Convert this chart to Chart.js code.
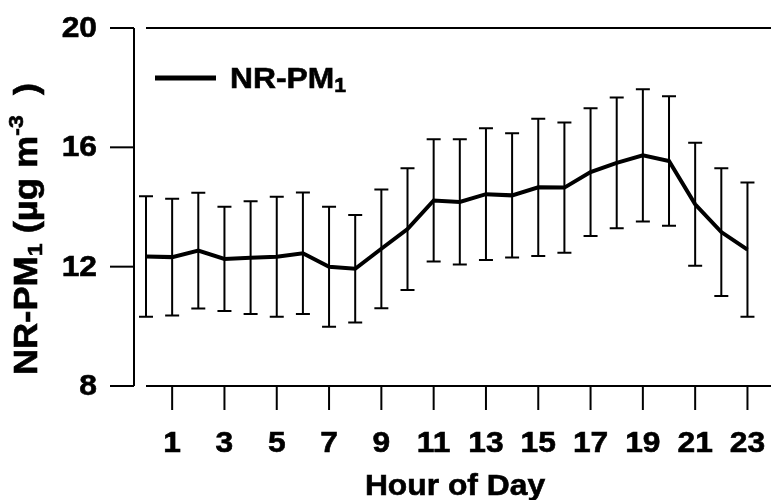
<!DOCTYPE html>
<html>
<head>
<meta charset="utf-8">
<script src="https://cdn.jsdelivr.net/npm/chart.js@4.4.1/dist/chart.umd.min.js"></script>
<style>
  html, body { margin: 0; padding: 0; background: #fff; }
  #wrap { width: 771px; height: 500px; }
</style>
</head>
<body>
<div id="wrap"><canvas id="diurnal" width="771" height="500"></canvas></div>
<script>
// ── DATA ──────────────────────────────────────────────────────────────────────
const hours  = [0, 1, 2, 3, 4, 5, 6, 7, 8, 9, 10, 11, 12, 13, 14, 15, 16, 17, 18, 19, 20, 21, 22, 23];
const meanPM = [12.34, 12.32, 12.54, 12.26, 12.30, 12.33, 12.45, 12.00, 11.93, 12.60, 13.26, 14.22,
                14.17, 14.43, 14.39, 14.66, 14.65, 15.17, 15.48, 15.73, 15.54, 14.09, 13.16, 12.57];
const sdPM   = [2.02, 1.96, 1.94, 1.75, 1.89, 2.01, 2.04, 2.01, 1.80, 1.99, 2.04, 2.05,
                2.10, 2.21, 2.08, 2.30, 2.18, 2.14, 2.19, 2.22, 2.17, 2.06, 2.14, 2.25];
const xTickHours  = [1, 3, 5, 7, 9, 11, 13, 15, 17, 19, 21, 23];
const yTickValues = [8, 12, 16, 20];

// ── TEXT HELPERS ──────────────────────────────────────────────────────────────
const FONT = '"Liberation Sans", Arial, Helvetica, sans-serif';
const SX = 1.06;   // slight horizontal stretch of the lettering

function setFont(ctx, size) { ctx.font = 'bold ' + size + 'px ' + FONT; }

// fill plus a hairline stroke so the glyphs come out a bit heavier
function inkText(ctx, text, x, y) {
    ctx.fillText(text, x, y);
    ctx.lineWidth = 0.6;
    ctx.strokeText(text, x, y);
}

function plainText(ctx, text, x, y, size, align) {
    ctx.save();
    ctx.translate(x, y);
    ctx.scale(SX, 1);
    setFont(ctx, size);
    ctx.textAlign = align;
    ctx.textBaseline = 'alphabetic';
    inkText(ctx, text, 0, 0);
    ctx.restore();
}

// parts: [{t, size, dy}] drawn left to right on one baseline
function richWidth(ctx, parts) {
    let w = 0;
    parts.forEach(p => { setFont(ctx, p.size); w += ctx.measureText(p.t).width; });
    return w;
}
function richText(ctx, parts, x0) {
    let x = x0;
    ctx.textAlign = 'left';
    ctx.textBaseline = 'alphabetic';
    parts.forEach(p => {
        setFont(ctx, p.size);
        inkText(ctx, p.t, x, p.dy || 0);
        x += ctx.measureText(p.t).width;
    });
}

const legendParts = [
    { t: 'NR-PM', size: 30 },
    { t: '1', size: 20, dy: 4 }
];
const yTitleParts = [
    { t: 'NR-PM', size: 33 },
    { t: '1', size: 21, dy: 5 },
    { t: ' (\u00b5g m', size: 33 },
    { t: '-3', size: 21, dy: -14 },
    { t: '  )', size: 33 }
];

// ── AXES, ERROR BARS, LABELS ──────────────────────────────────────────────────
const igorFrame = {
    id: 'igorFrame',
    beforeDatasetsDraw(chart) {
        const ctx = chart.ctx;
        const xs = chart.scales.x, ys = chart.scales.y;
        ctx.save();
        ctx.strokeStyle = '#000';
        ctx.lineWidth = 2;
        hours.forEach((h, i) => {
            const px = xs.getPixelForValue(h);
            const hi = ys.getPixelForValue(meanPM[i] + sdPM[i]);
            const lo = ys.getPixelForValue(meanPM[i] - sdPM[i]);
            ctx.beginPath();
            ctx.moveTo(px, hi); ctx.lineTo(px, lo);
            ctx.moveTo(px - 7, hi); ctx.lineTo(px + 7, hi);
            ctx.moveTo(px - 7, lo); ctx.lineTo(px + 7, lo);
            ctx.stroke();
        });
        ctx.restore();
    },
    afterDraw(chart) {
        const ctx = chart.ctx;
        const area = chart.chartArea;
        const xs = chart.scales.x, ys = chart.scales.y;
        const axisX = area.left - 12;
        ctx.save();
        ctx.strokeStyle = '#000';
        ctx.fillStyle = '#000';
        ctx.lineWidth = 2;

        // frame: left axis offset, bottom axis, top line
        ctx.beginPath();
        ctx.moveTo(axisX, ys.getPixelForValue(20)); ctx.lineTo(axisX, ys.getPixelForValue(8));
        ctx.moveTo(area.left, area.bottom); ctx.lineTo(chart.width, area.bottom);
        ctx.moveTo(area.left, area.top); ctx.lineTo(chart.width, area.top);
        ctx.stroke();

        // y ticks + labels
        yTickValues.forEach(v => {
            const py = ys.getPixelForValue(v);
            ctx.lineWidth = 2;
            ctx.beginPath();
            ctx.moveTo(axisX - 24, py); ctx.lineTo(axisX, py);
            ctx.stroke();
            plainText(ctx, String(v), 97, py + 9, 30, 'right');
        });

        // x ticks + labels
        xTickHours.forEach(h => {
            const px = xs.getPixelForValue(h);
            ctx.lineWidth = 2;
            ctx.beginPath();
            ctx.moveTo(px, area.bottom); ctx.lineTo(px, area.bottom + 24);
            ctx.stroke();
            plainText(ctx, String(h), px, 452, 30, 'center');
        });

        plainText(ctx, 'Hour of Day', 455, 495, 30, 'center');

        // y title, rotated
        ctx.save();
        ctx.translate(37, 229);
        ctx.rotate(-Math.PI / 2);
        ctx.scale(1.1, 1);
        richText(ctx, yTitleParts, -richWidth(ctx, yTitleParts) / 2, 0);
        ctx.restore();

        // legend
        ctx.lineWidth = 5;
        ctx.beginPath();
        ctx.moveTo(155, 78); ctx.lineTo(216, 78);
        ctx.stroke();
        ctx.save();
        ctx.translate(230, 88);
        ctx.scale(SX, 1);
        richText(ctx, legendParts, 0);
        ctx.restore();

        ctx.restore();
    }
};

// ── CHART ─────────────────────────────────────────────────────────────────────
window.onload = function () {
    const ctx = document.getElementById('diurnal').getContext('2d');
    new Chart(ctx, {
        type: 'line',
        data: {
            datasets: [{
                label: 'NR-PM1',
                data: hours.map((h, i) => ({ x: h, y: meanPM[i] })),
                borderColor: '#000',
                borderWidth: 4,
                pointRadius: 0,
                tension: 0,
                fill: false,
                clip: false
            }]
        },
        options: {
            responsive: false,
            animation: false,
            devicePixelRatio: 1,
            layout: { padding: { left: 146, top: 28, right: 0, bottom: 114 } },
            plugins: { legend: { display: false }, tooltip: { enabled: false } },
            scales: {
                x: { type: 'linear', min: 0, max: 23.9, display: false },
                y: { type: 'linear', min: 8, max: 20, display: false }
            }
        },
        plugins: [igorFrame]
    });
};
</script>
</body>
</html>
